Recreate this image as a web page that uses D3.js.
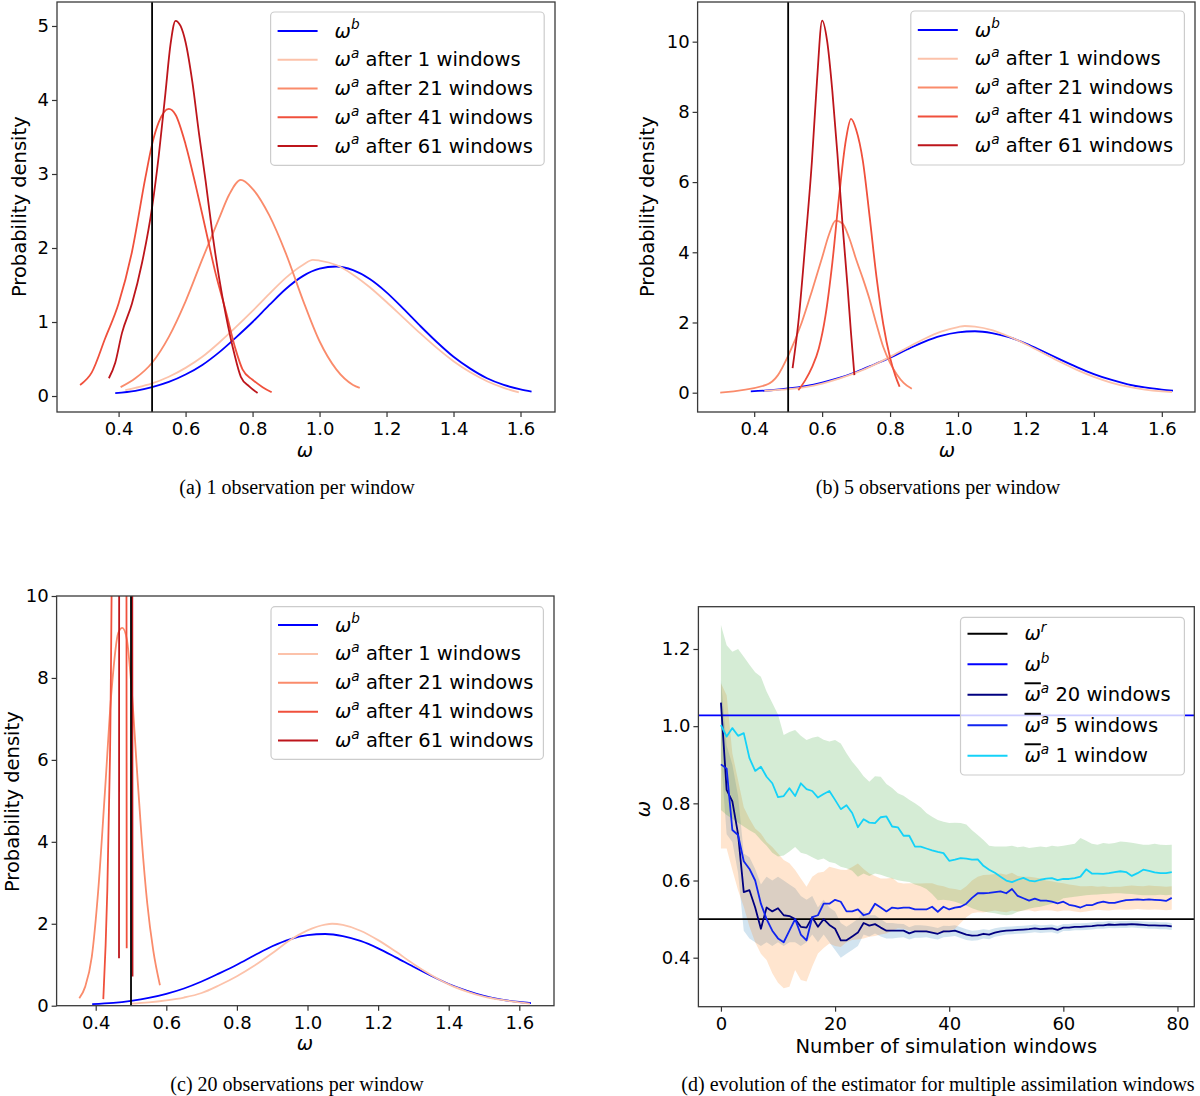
<!DOCTYPE html>
<html>
<head>
<meta charset="utf-8">
<script src="https://cdn.jsdelivr.net/npm/d3@7"></script>
<style>
  body { margin: 0; background: #fff; }
  text { white-space: pre; }
</style>
</head>
<body>
<svg id="fig" width="1200" height="1096"></svg>
<script>
// ---- data: density curves, [omega, density] ----
// prior, identical in (a), (b), (c)
const omegaB = [[0.39,0.04],[0.45,0.07],[0.5,0.12],[0.55,0.19],[0.6,0.29],[0.65,0.42],[0.7,0.59],[0.75,0.79],[0.8,1.0],[0.85,1.23],[0.9,1.45],[0.95,1.62],[1.0,1.72],[1.05,1.75],[1.1,1.70],[1.15,1.58],[1.2,1.40],[1.25,1.18],[1.3,0.95],[1.35,0.73],[1.4,0.53],[1.45,0.37],[1.5,0.24],[1.55,0.15],[1.6,0.09],[1.633,0.06]];

// (a) 1 observation per window
const a_after1  = [[0.42,0.08],[0.45,0.11],[0.5,0.17],[0.55,0.26],[0.6,0.38],[0.65,0.53],[0.7,0.72],[0.75,0.93],[0.8,1.15],[0.85,1.38],[0.9,1.60],[0.95,1.77],[0.98,1.84],[1.0,1.83],[1.05,1.77],[1.1,1.64],[1.15,1.47],[1.2,1.27],[1.25,1.06],[1.3,0.85],[1.35,0.65],[1.4,0.47],[1.45,0.32],[1.5,0.20],[1.55,0.11],[1.595,0.05]];
const a_after21 = [[0.406,0.12],[0.45,0.24],[0.5,0.45],[0.55,0.80],[0.6,1.28],[0.65,1.85],[0.7,2.40],[0.73,2.72],[0.765,2.92],[0.8,2.80],[0.85,2.44],[0.9,1.92],[0.95,1.30],[1.0,0.74],[1.05,0.36],[1.1,0.15],[1.12,0.11]];
const a_after41 = [[0.285,0.15],[0.32,0.32],[0.36,0.78],[0.4,1.25],[0.44,1.95],[0.48,2.95],[0.5,3.40],[0.52,3.70],[0.55,3.88],[0.57,3.80],[0.6,3.40],[0.63,2.85],[0.66,2.25],[0.69,1.65],[0.72,1.15],[0.75,0.62],[0.77,0.36],[0.8,0.22],[0.83,0.12],[0.857,0.05]];
const a_after61 = [[0.371,0.24],[0.39,0.45],[0.41,0.85],[0.44,1.25],[0.47,1.80],[0.5,2.55],[0.52,3.25],[0.54,4.10],[0.555,4.75],[0.57,5.07],[0.585,5.0],[0.6,4.78],[0.62,4.25],[0.64,3.55],[0.66,2.90],[0.68,2.20],[0.7,1.60],[0.72,1.10],[0.745,0.58],[0.765,0.26],[0.79,0.13],[0.815,0.04]];

// (b) 5 observations per window
const b_after1  = [[0.43,0.05],[0.5,0.10],[0.55,0.16],[0.6,0.26],[0.65,0.40],[0.7,0.57],[0.75,0.78],[0.8,1.02],[0.85,1.28],[0.9,1.53],[0.95,1.74],[1.0,1.87],[1.02,1.90],[1.05,1.88],[1.1,1.78],[1.15,1.60],[1.2,1.38],[1.25,1.13],[1.3,0.88],[1.35,0.65],[1.4,0.45],[1.45,0.29],[1.5,0.17],[1.55,0.09],[1.6,0.04],[1.63,0.02]];
const b_after21 = [[0.30,0.0],[0.435,0.22],[0.47,0.50],[0.5,1.05],[0.54,2.0],[0.57,2.9],[0.6,3.85],[0.62,4.5],[0.64,4.9],[0.66,4.82],[0.68,4.40],[0.7,3.80],[0.72,3.25],[0.74,2.65],[0.76,1.95],[0.78,1.30],[0.8,0.85],[0.82,0.52],[0.84,0.28],[0.864,0.11]];
const b_after41 = [[0.53,0.07],[0.55,0.35],[0.57,0.72],[0.59,1.25],[0.61,2.2],[0.63,3.7],[0.65,5.6],[0.67,7.2],[0.685,7.8],[0.7,7.5],[0.72,6.6],[0.74,5.0],[0.76,3.3],[0.78,1.95],[0.8,1.0],[0.815,0.50],[0.828,0.17]];
const b_after61 = [[0.513,0.7],[0.53,2.0],[0.55,4.2],[0.57,6.6],[0.585,8.9],[0.6,10.6],[0.615,10.0],[0.63,8.6],[0.645,6.8],[0.66,4.8],[0.675,3.0],[0.685,1.7],[0.695,0.5]];

// (c) 20 observations per window
const c_after1  = [[0.5,0.05],[0.55,0.08],[0.6,0.13],[0.65,0.20],[0.7,0.31],[0.75,0.50],[0.8,0.72],[0.85,0.98],[0.9,1.28],[0.95,1.60],[1.0,1.84],[1.05,1.98],[1.07,2.0],[1.1,1.97],[1.15,1.83],[1.2,1.60],[1.25,1.32],[1.3,1.02],[1.35,0.75],[1.4,0.52],[1.45,0.35],[1.5,0.22],[1.55,0.14],[1.6,0.08],[1.63,0.05]];
const c_after21 = [[0.3535,0.18],[0.37,0.46],[0.389,1.2],[0.407,2.8],[0.426,5.2],[0.445,7.7],[0.464,9.1],[0.4755,9.22],[0.488,8.95],[0.502,7.7],[0.515,6.0],[0.53,4.1],[0.546,2.5],[0.563,1.35],[0.582,0.5]];
const c_after41 = [[0.4215,0.16],[0.4328,2.8],[0.4405,6.1],[0.465,30],[0.487,12],[0.4878,1.4]];
const c_after61 = [[0.466,1.16],[0.4665,12],[0.485,40],[0.5035,12],[0.5043,0.71]];

const omegaRef = 0.5;
const omegaPrior = 1.028;

// ---- data: (d) estimator vs number of windows ----
const nWindows = d3.range(80);
const mean20 = [1.061,0.835,0.805,0.720,0.570,0.575,0.530,0.475,0.530,0.520,0.528,0.510,0.508,0.500,0.480,0.478,0.505,0.480,0.500,0.485,0.475,0.445,0.445,0.455,0.465,0.490,0.483,0.487,0.478,0.470,0.470,0.470,0.470,0.463,0.468,0.468,0.468,0.465,0.462,0.468,0.468,0.470,0.465,0.460,0.457,0.458,0.462,0.460,0.465,0.468,0.470,0.471,0.472,0.473,0.474,0.476,0.474,0.475,0.476,0.472,0.478,0.478,0.480,0.480,0.481,0.482,0.484,0.484,0.486,0.485,0.486,0.486,0.487,0.486,0.485,0.484,0.484,0.483,0.483,0.481];
const mean5 = [0.901,0.890,0.731,0.718,0.650,0.630,0.600,0.540,0.500,0.470,0.450,0.440,0.470,0.500,0.460,0.445,0.505,0.510,0.540,0.540,0.550,0.545,0.520,0.520,0.525,0.510,0.515,0.540,0.530,0.520,0.530,0.528,0.530,0.530,0.525,0.525,0.525,0.532,0.519,0.532,0.525,0.530,0.532,0.540,0.555,0.567,0.567,0.568,0.570,0.572,0.567,0.578,0.560,0.554,0.548,0.553,0.548,0.548,0.545,0.541,0.545,0.537,0.534,0.530,0.536,0.536,0.542,0.545,0.542,0.542,0.546,0.549,0.550,0.551,0.550,0.551,0.550,0.549,0.547,0.555];
const mean1 = [1.003,0.973,0.995,0.975,0.982,0.917,0.884,0.895,0.869,0.852,0.816,0.819,0.839,0.819,0.852,0.837,0.832,0.815,0.824,0.832,0.809,0.785,0.795,0.775,0.738,0.759,0.750,0.749,0.764,0.766,0.740,0.738,0.716,0.716,0.688,0.688,0.683,0.678,0.674,0.671,0.651,0.654,0.658,0.657,0.654,0.655,0.638,0.628,0.620,0.610,0.600,0.596,0.602,0.607,0.600,0.598,0.602,0.605,0.606,0.601,0.604,0.604,0.606,0.610,0.629,0.618,0.618,0.617,0.619,0.622,0.624,0.622,0.612,0.619,0.628,0.625,0.621,0.619,0.619,0.622];
const lo20 = [0.920,0.720,0.700,0.620,0.470,0.450,0.440,0.430,0.440,0.430,0.440,0.430,0.440,0.440,0.430,0.440,0.460,0.440,0.460,0.440,0.420,0.400,0.410,0.420,0.430,0.460,0.455,0.463,0.455,0.450,0.450,0.452,0.453,0.447,0.452,0.452,0.453,0.450,0.447,0.453,0.454,0.456,0.451,0.446,0.444,0.445,0.450,0.448,0.454,0.457,0.460,0.461,0.462,0.463,0.464,0.466,0.464,0.465,0.466,0.462,0.469,0.469,0.471,0.471,0.472,0.473,0.475,0.475,0.477,0.476,0.477,0.477,0.478,0.477,0.476,0.475,0.475,0.474,0.474,0.472];
const hi20 = [1.120,0.950,0.900,0.820,0.670,0.660,0.630,0.590,0.610,0.600,0.610,0.600,0.590,0.580,0.560,0.550,0.560,0.530,0.550,0.530,0.520,0.490,0.480,0.490,0.500,0.520,0.510,0.510,0.500,0.490,0.490,0.488,0.487,0.479,0.484,0.484,0.483,0.480,0.477,0.483,0.482,0.484,0.479,0.474,0.470,0.471,0.474,0.472,0.476,0.479,0.480,0.481,0.482,0.483,0.484,0.486,0.484,0.485,0.486,0.482,0.487,0.487,0.489,0.489,0.490,0.491,0.493,0.493,0.495,0.494,0.495,0.495,0.496,0.495,0.494,0.493,0.493,0.492,0.492,0.490];
const lo5 = [0.683,0.683,0.627,0.575,0.532,0.480,0.440,0.410,0.394,0.360,0.335,0.321,0.325,0.368,0.342,0.338,0.377,0.411,0.425,0.437,0.430,0.428,0.440,0.446,0.448,0.450,0.454,0.456,0.460,0.463,0.470,0.476,0.475,0.470,0.468,0.466,0.465,0.464,0.464,0.464,0.468,0.475,0.490,0.505,0.515,0.518,0.517,0.520,0.522,0.520,0.518,0.522,0.520,0.522,0.523,0.520,0.522,0.523,0.522,0.520,0.522,0.522,0.520,0.518,0.520,0.522,0.524,0.523,0.522,0.524,0.525,0.524,0.525,0.526,0.525,0.524,0.525,0.524,0.523,0.524];
const hi5 = [1.111,1.080,0.930,0.860,0.790,0.760,0.735,0.722,0.700,0.687,0.670,0.653,0.645,0.627,0.605,0.584,0.610,0.620,0.623,0.636,0.632,0.628,0.627,0.635,0.644,0.630,0.618,0.612,0.605,0.605,0.607,0.595,0.592,0.593,0.592,0.592,0.593,0.593,0.588,0.585,0.580,0.578,0.575,0.585,0.600,0.610,0.614,0.615,0.617,0.618,0.615,0.620,0.612,0.610,0.610,0.608,0.605,0.600,0.598,0.595,0.593,0.590,0.588,0.585,0.585,0.586,0.584,0.585,0.583,0.584,0.584,0.586,0.587,0.586,0.585,0.587,0.586,0.585,0.584,0.585];
const lo1 = [0.783,0.770,0.760,0.750,0.740,0.730,0.722,0.705,0.690,0.672,0.662,0.665,0.675,0.687,0.672,0.668,0.660,0.653,0.657,0.648,0.645,0.636,0.632,0.625,0.610,0.618,0.612,0.618,0.615,0.610,0.605,0.601,0.598,0.596,0.590,0.585,0.578,0.565,0.549,0.550,0.548,0.545,0.540,0.535,0.528,0.523,0.520,0.517,0.515,0.512,0.510,0.512,0.519,0.522,0.527,0.530,0.532,0.536,0.540,0.545,0.554,0.556,0.558,0.560,0.562,0.563,0.564,0.565,0.566,0.567,0.567,0.566,0.565,0.563,0.562,0.562,0.562,0.563,0.562,0.563];
const hi1 = [1.262,1.210,1.193,1.200,1.180,1.159,1.140,1.128,1.090,1.060,1.030,0.977,0.985,0.990,0.975,0.964,0.970,0.973,0.965,0.960,0.964,0.955,0.930,0.908,0.890,0.870,0.856,0.870,0.869,0.850,0.840,0.826,0.820,0.809,0.800,0.790,0.775,0.765,0.757,0.752,0.749,0.750,0.749,0.745,0.730,0.718,0.705,0.690,0.688,0.688,0.688,0.690,0.686,0.688,0.684,0.686,0.688,0.686,0.690,0.688,0.690,0.693,0.695,0.710,0.703,0.695,0.693,0.697,0.695,0.697,0.701,0.700,0.698,0.695,0.693,0.693,0.695,0.693,0.692,0.693];

// ticks
const omegaTicks = [0.4, 0.6, 0.8, 1.0, 1.2, 1.4, 1.6];
const densTicksA = [0, 1, 2, 3, 4, 5];
const densTicks10 = [0, 2, 4, 6, 8, 10];
const windowTicks = [0, 20, 40, 60, 80];
const estTicks = [0.4, 0.6, 0.8, 1.0, 1.2];

// ---- style ----
const RED1 = '#fcc2aa', RED21 = '#fa8b6b', RED41 = '#f0503c', RED61 = '#bd151b';
const BLUE = '#0000ff';
const NAVY = '#000080', MID = '#1024f0', CYAN = '#14d2f8';
const SANS = 'DejaVu Sans', SERIF = 'Liberation Serif, Times New Roman, serif';
const TICK_FS = 18, LAB_FS = 19.5, LEG_FS = 19.5;

const svg = d3.select('#fig');
svg.append('rect').attr('width', 1200).attr('height', 1096).attr('fill', '#fff');

// 建坐标轴
function makeAxes(id, box, xDom, yDom, xTicks, yTicks, xFmt, yFmt) {
  const x = d3.scaleLinear().domain(xDom).range([box.l, box.r]);
  const y = d3.scaleLinear().domain(yDom).range([box.b, box.t]);
  svg.append('clipPath').attr('id', 'clip-' + id)
    .append('rect').attr('x', box.l).attr('y', box.t)
    .attr('width', box.r - box.l).attr('height', box.b - box.t);
  const g = svg.append('g');
  const plot = g.append('g').attr('clip-path', `url(#clip-${id})`);

  const ax = g.append('g').attr('transform', `translate(0,${box.b})`)
    .call(d3.axisBottom(x).tickValues(xTicks).tickFormat(d3.format(xFmt)).tickSize(5).tickPadding(5.5).tickSizeOuter(0));
  const ay = g.append('g').attr('transform', `translate(${box.l},0)`)
    .call(d3.axisLeft(y).tickValues(yTicks).tickFormat(d3.format(yFmt)).tickSize(5).tickPadding(3).tickSizeOuter(0));
  [ax, ay].forEach(a => {
    a.select('.domain').remove();
    a.selectAll('text').attr('font-family', SANS).attr('font-size', TICK_FS).attr('fill', '#000');
    a.selectAll('line').attr('stroke', '#333').attr('stroke-width', 1.2);
  });
  return { g, plot, x, y, box };
}

function frame(ax) {
  const b = ax.box;
  ax.g.append('rect').attr('x', b.l).attr('y', b.t).attr('width', b.r - b.l).attr('height', b.b - b.t)
    .attr('fill', 'none').attr('stroke', '#3a3a3a').attr('stroke-width', 1.3);
}

// omega 标签 (带上标/横线)
function omegaText(t, it, fs) {
  const w = t.append('tspan').attr('font-style', 'italic').text('ω');
  if (it.bar) w.attr('text-decoration', 'overline');
  t.append('tspan').attr('font-style', 'italic').attr('font-size', fs * 0.7).attr('dy', -fs * 0.42).text(it.sup);
  if (it.text) t.append('tspan').attr('font-size', fs).attr('dy', fs * 0.42).text(it.text);
}

function legend(g, box, items, off, step) {
  g.append('rect').attr('x', box.x).attr('y', box.y).attr('width', box.w).attr('height', box.h)
    .attr('rx', 4).attr('fill', '#fff').attr('fill-opacity', 0.8)
    .attr('stroke', '#cccccc').attr('stroke-width', 1.2);
  items.forEach((it, i) => {
    const cy = box.y + off + i * step;
    g.append('line').attr('x1', box.x + 7).attr('x2', box.x + 47).attr('y1', cy).attr('y2', cy)
      .attr('stroke', it.color).attr('stroke-width', 2);
    const t = g.append('text').attr('x', box.x + 64).attr('y', cy + 6.5)
      .attr('font-family', SANS).attr('font-size', LEG_FS).attr('fill', '#000');
    omegaText(t, it, LEG_FS);
  });
}

function axisLabels(ax, xl, yl) {
  const xt = ax.g.append('text').attr('x', xl.x).attr('y', xl.y).attr('text-anchor', 'middle')
    .attr('font-family', SANS).attr('font-size', LAB_FS);
  if (xl.omega) xt.attr('font-style', 'italic').text('ω'); else xt.text(xl.text);
  const yt = ax.g.append('text').attr('transform', `translate(${yl.x},${yl.y}) rotate(-90)`)
    .attr('text-anchor', 'middle').attr('font-family', SANS).attr('font-size', LAB_FS);
  if (yl.omega) yt.attr('font-style', 'italic').text('ω'); else yt.text(yl.text);
}

function caption(x, y, s) {
  svg.append('text').attr('x', x).attr('y', y).attr('text-anchor', 'middle')
    .attr('font-family', SERIF).attr('font-size', 20).text(s);
}

const densLegend = [
  { sup: 'b', color: BLUE },
  { sup: 'a', text: ' after 1 windows', color: RED1 },
  { sup: 'a', text: ' after 21 windows', color: RED21 },
  { sup: 'a', text: ' after 41 windows', color: RED41 },
  { sup: 'a', text: ' after 61 windows', color: RED61 }
];

function densityPanel(p) {
  const ax = makeAxes(p.id, p.box, p.xDom, p.yDom, omegaTicks, p.yTicks, '.1f', 'd');
  const line = d3.line().x(d => ax.x(d[0])).y(d => ax.y(d[1])).curve(d3.curveMonotoneX);
  const series = [[omegaB, BLUE], [p.s1, RED1], [p.s21, RED21], [p.s41, RED41], [p.s61, RED61]];
  series.forEach(([data, col]) => {
    ax.plot.append('path').datum(data).attr('d', line).attr('fill', 'none')
      .attr('stroke', col).attr('stroke-width', 1.8).attr('stroke-linejoin', 'round');
  });
  ax.plot.append('line').attr('x1', ax.x(omegaRef)).attr('x2', ax.x(omegaRef))
    .attr('y1', p.box.t).attr('y2', p.box.b).attr('stroke', '#000').attr('stroke-width', 1.8);
  frame(ax);
  legend(ax.g, p.leg, densLegend, p.legOff, p.legStep);
  axisLabels(ax, p.xl, p.yl);
  caption(p.cap.x, p.cap.y, p.cap.s);
}

densityPanel({
  id: 'a', box: { l: 57, r: 555, t: 2, b: 412 }, xDom: [0.2161, 1.703], yDom: [-0.216, 5.324], yTicks: densTicksA,
  s1: a_after1, s21: a_after21, s41: a_after41, s61: a_after61,
  leg: { x: 270.6, y: 12, w: 273.6, h: 153.3 }, legOff: 19, legStep: 28.75,
  xl: { omega: true, x: 305, y: 456.7 }, yl: { text: 'Probability density', x: 26, y: 206.7 },
  cap: { x: 297, y: 494, s: '(a) 1 observation per window' }
});
densityPanel({
  id: 'b', box: { l: 697.6, r: 1195, t: 2, b: 412 }, xDom: [0.2334, 1.6977], yDom: [-0.55, 11.13], yTicks: densTicks10,
  s1: b_after1, s21: b_after21, s41: b_after41, s61: b_after61,
  leg: { x: 910.8, y: 11, w: 273.6, h: 154 }, legOff: 19, legStep: 28.8,
  xl: { omega: true, x: 947, y: 456.7 }, yl: { text: 'Probability density', x: 654, y: 206.7 },
  cap: { x: 938, y: 494, s: '(b) 5 observations per window' }
});
densityPanel({
  id: 'c', box: { l: 56.6, r: 554, t: 596, b: 1005.7 }, xDom: [0.2892, 1.6983], yDom: [0, 10], yTicks: densTicks10,
  s1: c_after1, s21: c_after21, s41: c_after41, s61: c_after61,
  leg: { x: 271, y: 606.7, w: 272.4, h: 152.6 }, legOff: 18.3, legStep: 28.9,
  xl: { omega: true, x: 305, y: 1050 }, yl: { text: 'Probability density', x: 18.5, y: 801.7 },
  cap: { x: 297, y: 1091, s: '(c) 20 observations per window' }
});

// (d) 估计量随窗口数的变化
(function () {
  const box = { l: 698.4, r: 1194.3, t: 606.7, b: 1006.7 };
  const ax = makeAxes('d', box, [-3.95, 82.95], [0.273, 1.3096], windowTicks, estTicks, 'd', '.1f');
  const bands = [[lo20, hi20, '#1f77b4'], [lo5, hi5, '#ff7f0e'], [lo1, hi1, '#2ca02c']];
  bands.forEach(([lo, hi, col]) => {
    const area = d3.area().x(i => ax.x(i)).y0(i => ax.y(lo[i])).y1(i => ax.y(hi[i]));
    ax.plot.append('path').datum(nWindows).attr('d', area).attr('fill', col).attr('fill-opacity', 0.2);
  });
  [[omegaRef, '#000'], [omegaPrior, BLUE]].forEach(([v, col]) => {
    ax.plot.append('line').attr('x1', box.l).attr('x2', box.r).attr('y1', ax.y(v)).attr('y2', ax.y(v))
      .attr('stroke', col).attr('stroke-width', 1.8);
  });
  [[mean20, NAVY], [mean5, MID], [mean1, CYAN]].forEach(([m, col]) => {
    const line = d3.line().x(i => ax.x(i)).y(i => ax.y(m[i]));
    ax.plot.append('path').datum(nWindows).attr('d', line).attr('fill', 'none')
      .attr('stroke', col).attr('stroke-width', 1.8).attr('stroke-linejoin', 'round');
  });
  frame(ax);
  legend(ax.g, { x: 960.5, y: 617.3, w: 223.9, h: 157.7 }, [
    { sup: 'r', color: '#000' },
    { sup: 'b', color: BLUE },
    { sup: 'a', bar: true, text: ' 20 windows', color: NAVY },
    { sup: 'a', bar: true, text: ' 5 windows', color: MID },
    { sup: 'a', bar: true, text: ' 1 window', color: CYAN }
  ], 16.5, 30.5);
  axisLabels(ax, { text: 'Number of simulation windows', x: 946.3, y: 1053 }, { omega: true, x: 650, y: 809 });
  caption(938, 1091, '(d) evolution of the estimator for multiple assimilation windows');
})();
</script>
</body>
</html>
